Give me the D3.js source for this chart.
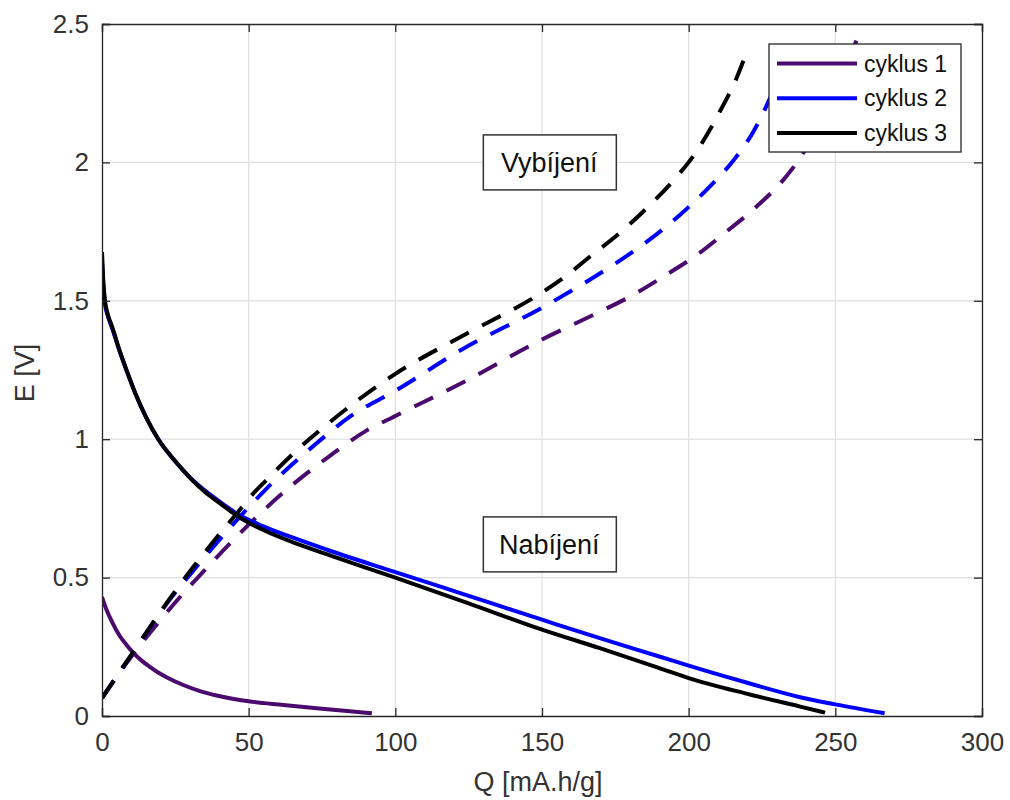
<!DOCTYPE html>
<html>
<head>
<meta charset="utf-8">
<script src="https://cdn.jsdelivr.net/npm/d3@7"></script>
<style>
  html, body { margin: 0; padding: 0; background: #fff; }
  svg { display: block; font-family: "Liberation Sans", Arial, Helvetica, sans-serif; }
</style>
</head>
<body>
<svg id="chart" width="1010" height="800"></svg>
<script>
// Galvanostatic cycling: charge (Nabíjení, solid) and discharge (Vybíjení, dashed)
const seriesNames = ["cyklus 1", "cyklus 2", "cyklus 3"];
const seriesColors = ["#4b0a6e", "#0000ff", "#000000"];

// Charge curves, Q [mA.h/g] vs E [V]
const chargeQ1 = [0, 1.5, 3.5, 6, 8.5, 10.7, 13.5, 16.4, 19, 22, 27.7, 33.4, 39.1, 50, 61.8, 73.2, 84.5, 92];
const chargeE1 = [0.43, 0.385, 0.338, 0.29, 0.255, 0.228, 0.2, 0.177, 0.158, 0.14, 0.112, 0.09, 0.074, 0.053, 0.04, 0.028, 0.017, 0.01];

const chargeQ2 = [0, 0.4, 1, 2, 3.5, 6, 8.5, 11.2, 15, 19.2, 25, 30, 35, 40, 46.5, 55, 67.5, 77.7, 100, 125, 150, 169.7, 190, 200, 220, 238, 250, 266.8];
const chargeE2 = [1.64, 1.56, 1.49, 1.445, 1.4, 1.318, 1.245, 1.17, 1.08, 1.0, 0.92, 0.862, 0.815, 0.775, 0.728, 0.685, 0.635, 0.597, 0.52, 0.434, 0.348, 0.281, 0.215, 0.182, 0.12, 0.068, 0.042, 0.01];

const chargeQ3 = [0, 0.4, 1, 2, 3.5, 6, 8.5, 11.2, 15, 19.2, 25, 30, 35, 40, 46.5, 55, 67.5, 77.7, 100, 125, 150, 169.7, 190, 200, 220, 238, 246.5];
const chargeE3 = [1.676, 1.58, 1.5, 1.45, 1.405, 1.32, 1.245, 1.17, 1.08, 1.0, 0.92, 0.86, 0.81, 0.77, 0.72, 0.672, 0.618, 0.58, 0.5, 0.407, 0.312, 0.245, 0.173, 0.137, 0.08, 0.034, 0.012];

// Discharge curves
const dischargeQ1 = [0, 10, 18.6, 26.6, 35.7, 44.7, 53.8, 63, 77.7, 90, 100, 123, 150, 168.6, 180, 191.3, 202.7, 212.9, 223.1, 232.2, 239, 245, 250, 254, 257.2];
const dischargeE1 = [0.065, 0.215, 0.33, 0.43, 0.535, 0.635, 0.73, 0.818, 0.94, 1.03, 1.084, 1.205, 1.36, 1.455, 1.515, 1.587, 1.665, 1.75, 1.84, 1.936, 2.033, 2.15, 2.26, 2.36, 2.44];

const dischargeQ2 = [0, 10.7, 22, 31.1, 39.1, 46.5, 55, 72, 85, 100, 123, 150, 165.2, 176.5, 186.8, 197, 206, 215.1, 222, 227, 231, 234.5];
const dischargeE2 = [0.065, 0.232, 0.405, 0.525, 0.625, 0.714, 0.81, 0.975, 1.085, 1.175, 1.326, 1.475, 1.569, 1.645, 1.722, 1.81, 1.9, 2.005, 2.11, 2.215, 2.315, 2.43];

const dischargeQ3 = [0, 10.7, 22, 31.1, 39.1, 47, 50.4, 56.1, 66.4, 77.7, 100, 123, 150, 156.7, 166.3, 177.7, 186.8, 195.9, 202.7, 210.6, 216.3, 220.3];
const dischargeE3 = [0.065, 0.232, 0.408, 0.538, 0.645, 0.745, 0.79, 0.853, 0.96, 1.062, 1.236, 1.374, 1.53, 1.578, 1.659, 1.756, 1.846, 1.948, 2.04, 2.183, 2.304, 2.414];

const xTicks = [0, 50, 100, 150, 200, 250, 300];
const yTicks = [0, 0.5, 1, 1.5, 2, 2.5];
const xLabel = "Q [mA.h/g]";
const yLabel = "E [V]";
const annotations = [
  { text: "Vybíjení", q: 130, e: 2.0 },
  { text: "Nabíjení", q: 130, e: 0.62 }
];

const charge = [[chargeQ1, chargeE1], [chargeQ2, chargeE2], [chargeQ3, chargeE3]];
const discharge = [[dischargeQ1, dischargeE1], [dischargeQ2, dischargeE2], [dischargeQ3, dischargeE3]];

const svg = d3.select("#chart");
const margin = { left: 102, top: 24, right: 28, bottom: 84 };
const W = 1010 - margin.left - margin.right;
const H = 800 - margin.top - margin.bottom;
const axisColor = "#262626";
const textColor = "#333333";

const x = d3.scaleLinear().domain([0, 300]).range([0, W]);
const y = d3.scaleLinear().domain([0, 2.5]).range([H, 0]);

const g = svg.append("g").attr("transform", `translate(${margin.left},${margin.top})`);

// grid
g.append("g").selectAll("line").data(xTicks.slice(1, -1)).join("line")
  .attr("x1", d => x(d)).attr("x2", d => x(d)).attr("y1", 0).attr("y2", H)
  .attr("stroke", "#dfdfdf").attr("stroke-width", 1.2);
g.append("g").selectAll("line").data(yTicks.slice(1, -1)).join("line")
  .attr("y1", d => y(d)).attr("y2", d => y(d)).attr("x1", 0).attr("x2", W)
  .attr("stroke", "#dfdfdf").attr("stroke-width", 1.2);

// curves
const line = d3.line().x(d => x(d[0])).y(d => y(d[1])).curve(d3.curveMonotoneX);
const zipPts = (qs, es) => qs.map((q, i) => [q, es[i]]);

svg.append("defs").append("clipPath").attr("id", "plotClip")
  .append("rect").attr("width", W).attr("height", H);

const curves = g.append("g").attr("clip-path", "url(#plotClip)");
for (let i = 0; i < 3; i++) {
  curves.append("path")
    .attr("d", line(zipPts(charge[i][0], charge[i][1])))
    .attr("fill", "none").attr("stroke", seriesColors[i])
    .attr("stroke-width", 4).attr("stroke-linejoin", "round");
  curves.append("path")
    .attr("d", line(zipPts(discharge[i][0], discharge[i][1])))
    .attr("fill", "none").attr("stroke", seriesColors[i])
    .attr("stroke-width", 4).attr("stroke-dasharray", "21,15");
}

// axes box with inward ticks
const tickLen = 8;
const axB = d3.axisBottom(x).tickValues(xTicks).tickSize(-tickLen).tickPadding(17).tickFormat(d3.format("d"));
const axL = d3.axisLeft(y).tickValues(yTicks).tickSize(-tickLen).tickPadding(13).tickFormat(d => String(d));
const axT = d3.axisTop(x).tickValues(xTicks).tickSize(-tickLen).tickFormat("");
const axR = d3.axisRight(y).tickValues(yTicks).tickSize(-tickLen).tickFormat("");

function styleAxis(sel) {
  sel.select(".domain").attr("stroke", axisColor).attr("stroke-width", 1.3);
  sel.selectAll(".tick line").attr("stroke", axisColor).attr("stroke-width", 1.3);
  sel.selectAll(".tick text").attr("fill", textColor).attr("font-size", 26)
    .attr("font-family", "'Liberation Sans', Arial, sans-serif");
}
g.append("g").attr("transform", `translate(0,${H})`).call(axB).call(styleAxis);
g.append("g").call(axL).call(styleAxis);
g.append("g").call(axT).call(styleAxis);
g.append("g").attr("transform", `translate(${W},0)`).call(axR).call(styleAxis);

// axis labels
svg.append("text").attr("x", margin.left + W / 2 - 4).attr("y", 791)
  .attr("text-anchor", "middle").attr("font-size", 27).attr("fill", textColor).text(xLabel);
svg.append("text").attr("transform", `translate(34,${margin.top + H / 2 + 3}) rotate(-90)`)
  .attr("text-anchor", "middle").attr("font-size", 27).attr("fill", textColor).text(yLabel);

// boxed annotations
annotations.forEach(a => {
  const ag = g.append("g").attr("transform", `translate(${x(a.q)},${y(a.e)})`);
  ag.append("rect").attr("x", 0).attr("y", -27.5).attr("width", 133).attr("height", 55)
    .attr("fill", "#fff").attr("stroke", "#333").attr("stroke-width", 1.5);
  ag.append("text").attr("x", 66).attr("y", 0).attr("dy", "0.35em")
    .attr("text-anchor", "middle").attr("font-size", 27).attr("fill", "#111").text(a.text);
});

// legend
const lg = g.append("g").attr("transform", `translate(${W - 213},20)`);
lg.append("rect").attr("width", 192).attr("height", 108)
  .attr("fill", "#fff").attr("stroke", axisColor).attr("stroke-width", 1.3);
seriesNames.forEach((name, i) => {
  const yy = 19.5 + i * 34.7;
  lg.append("line").attr("x1", 8).attr("x2", 88).attr("y1", yy).attr("y2", yy)
    .attr("stroke", seriesColors[i]).attr("stroke-width", 4);
  lg.append("text").attr("x", 95).attr("y", yy).attr("dy", "0.35em")
    .attr("font-size", 23).attr("fill", "#111").text(name);
});
</script>
</body>
</html>
